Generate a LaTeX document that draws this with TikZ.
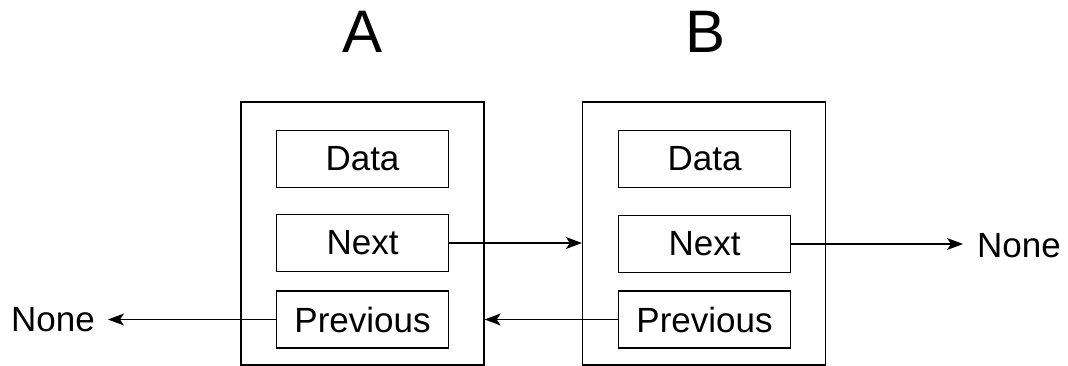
\documentclass[tikz,border=0pt]{standalone}
\usepackage{fontspec}
\setmainfont{Liberation Sans}
\usetikzlibrary{arrows.meta}
\begin{document}
\begin{tikzpicture}[x=1pt,y=-1pt,
  nodebox/.style={draw, line width=1.3pt, minimum width=243pt, minimum height=263pt, inner sep=0pt},
  field/.style={draw, line width=1.3pt, minimum width=172pt, minimum height=57pt, inner sep=0pt,
    font=\fontsize{35}{42}\selectfont},
  title/.style={font=\fontsize{60}{72}\selectfont, anchor=base, inner sep=0pt},
  label/.style={font=\fontsize{35}{42}\selectfont, inner sep=0pt},
  link/.style={line width=1.3pt, -{Stealth[length=16pt, width=12pt, inset=4pt]}}]
\useasboundingbox (0,0) rectangle (1068,366);

% list node A
\node[nodebox] (boxA) at (362.5,233.5) {};
\node[field] (dataA) at (362.5,159) {Data};
\node[field] (nextA) at (362.5,243) {Next};
\node[field] (prevA) at (362.5,319.5) {Previous};
\node[title] (titleA) at (362.5,53) {A};

% list node B
\node[nodebox] (boxB) at (704,233.5) {};
\node[field] (dataB) at (704.5,159) {Data};
\node[field] (nextB) at (704.5,244) {Next};
\node[field] (prevB) at (704.5,319.5) {Previous};
\node[title] (titleB) at (706,53) {B};

% list ends
\node[label, anchor=west] (noneL) at (11,320) {None};
\node[label, anchor=west] (noneR) at (977,246) {None};
\coordinate (tipL) at (108,320);
\coordinate (tipR) at (963,246);

% links
\draw[link] (nextA.east) -- (nextA.east -| boxB.west);
\draw[link] (prevB.west) -- (prevB.west -| boxA.east);
\draw[link] (prevA.west) -- (prevA.west -| tipL);
\draw[link] (nextB.east) -- (nextB.east -| tipR);
\end{tikzpicture}
\end{document}
